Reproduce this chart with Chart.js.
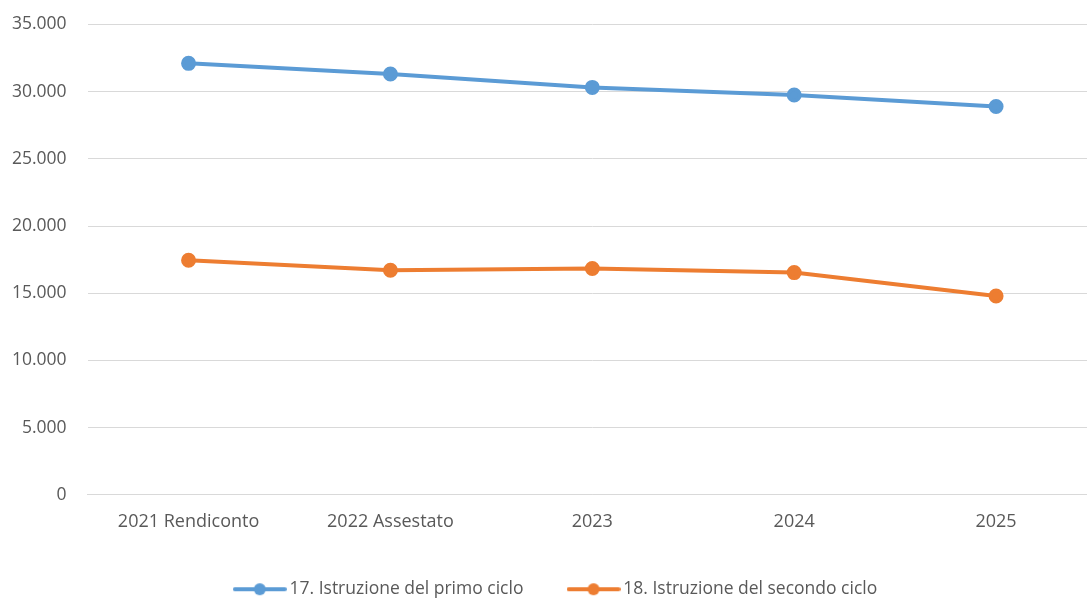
<!DOCTYPE html>
<html>
<head>
<meta charset="utf-8">
<script src="https://cdn.jsdelivr.net/npm/chart.js@4"></script>
<style>
    body { margin: 0; background: #fff; overflow: hidden; }
    #wrap { position: absolute; left: 0; top: -7px; width: 1097px; height: 606px; }
</style>
</head>
<body>
<div id="wrap"><canvas id="grafico"></canvas></div>
<script>
const categorie = ['2021 Rendiconto', '2022 Assestato', '2023', '2024', '2025'];
const primoCiclo = [32110, 31320, 30320, 29750, 28900];
const secondoCiclo = [17460, 16720, 16840, 16540, 14800];
const nomiSerie = ['17. Istruzione del primo ciclo', '18. Istruzione del secondo ciclo'];
const coloriSerie = ['#5b9bd5', '#ed7d31'];

function formatoMigliaia(v) {
    return String(v).replace(/\B(?=(\d{3})+(?!\d))/g, '.');
}

// marcatore della legenda: linea con pallino al centro
function marcatore(colore) {
    const c = document.createElement('canvas');
    c.width = 54;
    c.height = 14;
    const g = c.getContext('2d');
    g.strokeStyle = colore;
    g.lineWidth = 4;
    g.lineCap = 'round';
    g.beginPath();
    g.moveTo(2, 7);
    g.lineTo(52, 7);
    g.stroke();
    g.fillStyle = colore;
    g.beginPath();
    g.arc(27, 7, 6, 0, Math.PI * 2);
    g.fill();
    return c;
}

// sposta la legenda un po' a destra, come nell'originale
const spostaLegenda = {
    id: 'spostaLegenda',
    afterLayout(chart) {
        chart.legend.left += 14;
        chart.legend.right += 14;
    }
};

const ctx = document.getElementById('grafico').getContext('2d');
new Chart(ctx, {
    type: 'line',
    data: {
        labels: categorie,
        datasets: [primoCiclo, secondoCiclo].map((valori, i) => ({
            label: nomiSerie[i],
            data: valori,
            borderColor: coloriSerie[i],
            backgroundColor: coloriSerie[i],
            borderWidth: 4,
            pointRadius: 5.5,
            pointHoverRadius: 5.5,
            tension: 0
        }))
    },
    options: {
        responsive: true,
        maintainAspectRatio: false,
        animation: false,
        layout: { autoPadding: false, padding: { top: 0, right: 0, left: -9, bottom: -9 } },
        scales: {
            x: {
                offset: true,
                grid: { display: false },
                border: { color: '#d9d9d9' },
                ticks: { color: '#595959', font: { family: 'Open Sans', size: 18 }, padding: 8 }
            },
            y: {
                min: 0,
                max: 35000,
                grid: { color: '#d9d9d9', drawTicks: false },
                border: { display: false },
                ticks: {
                    stepSize: 5000,
                    color: '#595959',
                    padding: 21,
                    font: { family: 'Open Sans', size: 17.5 },
                    callback: v => formatoMigliaia(v)
                }
            }
        },
        plugins: {
            legend: {
                position: 'bottom',
                labels: {
                    color: '#595959',
                    font: { family: 'Open Sans', size: 17.5 },
                    padding: 40,
                    usePointStyle: true,
                    pointStyleWidth: 42,
                    generateLabels: chart => chart.data.datasets.map((d, i) => ({
                        // spazi finali per allargare la distanza tra le due voci
                        text: i === 0 ? d.label + '\u00a0\u00a0' : d.label,
                        fontColor: '#595959',
                        pointStyle: marcatore(coloriSerie[i]),
                        datasetIndex: i,
                        hidden: false,
                        lineWidth: 0
                    }))
                }
            },
            tooltip: { enabled: false }
        }
    },
    plugins: [spostaLegenda]
});
</script>
</body>
</html>
